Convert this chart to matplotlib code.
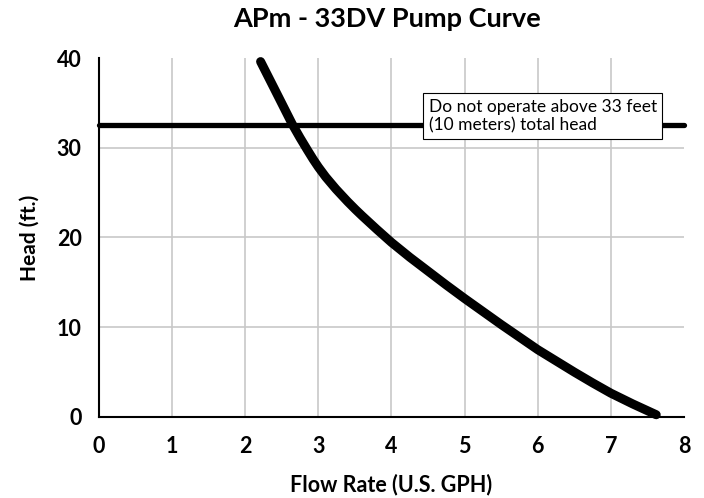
import matplotlib
matplotlib.use('Agg')
import matplotlib.pyplot as plt

# pump curve
flow = [2.21, 2.40, 2.645, 2.75, 2.85, 2.93, 3.0, 3.1, 3.24, 3.4, 3.51, 3.6, 3.8, 4.0, 4.25, 4.5, 4.75,
        5.0, 5.25, 5.5, 5.75, 6.0, 6.25, 6.5, 6.75, 7.0, 7.3, 7.62]
head = [39.6, 36.55, 32.6, 31.1, 29.75, 28.7, 27.85, 26.75, 25.4, 24.0, 23.1, 22.4, 20.9, 19.45, 17.8, 16.25, 14.7,
        13.2, 11.75, 10.3, 8.9, 7.5, 6.25, 5.0, 3.8, 2.65, 1.45, 0.25]

maxHead = 32.5
xTicks = [0, 1, 2, 3, 4, 5, 6, 7, 8]
yTicks = [0, 10, 20, 30, 40]

titleText = 'APm - 33DV Pump Curve'
xLabel = 'Flow Rate (U.S. GPH)'
yLabel = 'Head (ft.)'
noteText = 'Do not operate above 33 feet\n(10 meters) total head'

plt.rcParams['font.family'] = ['Lato', 'DejaVu Sans']

fig = plt.figure(figsize=(7.04, 4.98), dpi=100)
ax = fig.add_axes([0.1406, 0.1627, 0.9716 - 0.1406, 0.8835 - 0.1627])

ax.plot([0, 8], [maxHead, maxHead], color='black', linewidth=3.8, solid_capstyle='round', zorder=3, clip_on=False)
ax.plot(flow, head, color='black', linewidth=6.5, solid_capstyle='round', solid_joinstyle='round', zorder=4, clip_on=False)

ax.text(4.51, 33.55, noteText, fontsize=12.5, ha='left', va='center', linespacing=1.2, zorder=5,
        bbox=dict(boxstyle='square,pad=0.32', facecolor='white', edgecolor='black', linewidth=0.8))

ax.set_xlim(0, 8)
ax.set_ylim(0, 40)
ax.set_xticks(xTicks)
ax.set_yticks(yTicks)
ax.tick_params(length=0, labelsize=15.5)
ax.tick_params(axis='x', pad=14)
ax.tick_params(axis='y', pad=12.5)
for lbl in ax.get_xticklabels() + ax.get_yticklabels():
    lbl.set_fontweight('bold')

ax.grid(True, color='#c8c8c8', linewidth=1.2)
ax.set_axisbelow(True)
ax.get_xgridlines()[-1].set_visible(False)
ax.get_ygridlines()[-1].set_visible(False)
ax.get_xgridlines()[0].set_visible(False)
ax.get_ygridlines()[0].set_visible(False)

ax.spines['top'].set_visible(False)
ax.spines['right'].set_visible(False)
ax.spines['left'].set_linewidth(1.5)
ax.spines['bottom'].set_linewidth(1.5)

ax.set_xlabel(xLabel, fontsize=15.5, fontweight='bold', labelpad=12)
ax.set_ylabel(yLabel, fontsize=15, fontweight='bold', labelpad=12)
fig.text(0.5504, 0.962, titleText, fontsize=19.5, fontweight='bold', ha='center', va='center')

fig.savefig('out.png', dpi=100)
